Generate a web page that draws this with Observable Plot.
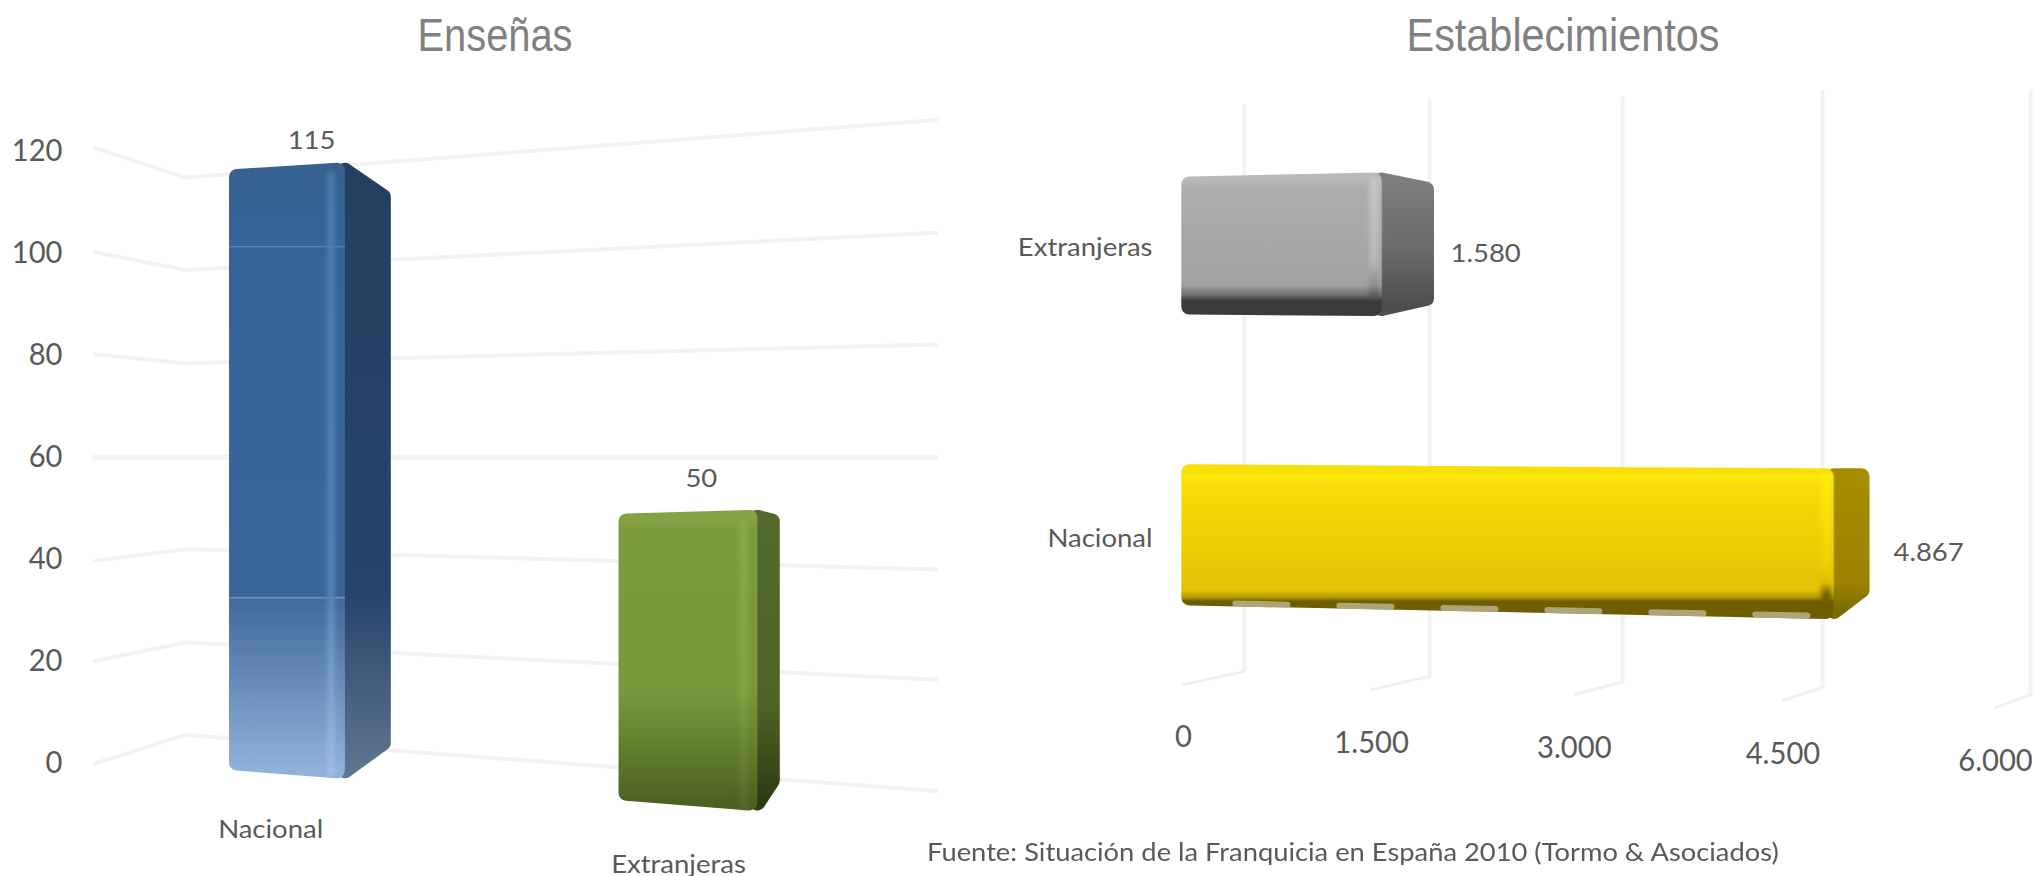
<!DOCTYPE html>
<html lang="es">
<head>
<meta charset="utf-8">
<script src="https://cdn.jsdelivr.net/npm/d3@7"></script>
<script src="https://cdn.jsdelivr.net/npm/@observablehq/plot@0.6"></script>
<style>
html,body{margin:0;padding:0;background:#fff;width:2035px;height:876px;overflow:hidden}
#page{position:relative;width:2035px;height:876px;font-family:Lato,sans-serif}
#left,#right{position:absolute;top:0}
#left{left:0}#right{left:950px}
.t{position:absolute;white-space:nowrap;color:#808080;font-family:"Liberation Sans",sans-serif;font-size:46px;line-height:1}
#source{position:absolute;left:927px;top:836px;white-space:nowrap;color:#595959;font-size:25px;line-height:1.2;transform-origin:0 50%;transform:scaleX(1.093)}
svg{overflow:visible;display:block}
g[fill*="Edge"]{filter:blur(2.5px)}
</style>
</head>
<body>
<div id="page">
<div id="left"></div><div id="right"></div>
<div class="t" style="left:495px;top:12px;transform:translateX(-50%) scaleX(.865)">Enseñas</div>
<div class="t" style="left:1563px;top:12px;transform:translateX(-50%) scaleX(.90)">Establecimientos</div>
<div id="source">Fuente: Situación de la Franquicia en España 2010 (Tormo &amp; Asociados)</div>
</div>
<script>
const FONT='Lato,sans-serif';
const INK="#595959";
const GRID="#f2f2f2";

// ---------- Enseñas ----------
const ensenasCategories=["Nacional","Extranjeras"];
const ensenasValues=[115,50];
const ensenasTicks=[0,20,40,60,80,100,120];
const gridFarLeft=[0,20.1,39.7,60,80.2,100.2,120.6];
const gridCorner=[5.6,23.7,42,60,78.4,96.7,114.8];
const gridFarRight=[-5.4,16.4,38,60,82.1,104,126.1];
const ensenasGridX=[-0.481,-0.254,1.618];
const ensenasFloor=[-1.5,-7.4];
const ensenasFloorRight=[-3,-9.3];
const ensenasFloorBack=[2.4,-5];
const ensenasTopLeft=[1.4,-1.1];
const ensenasTopRight=[2.6,-0.4];
const ensenasTopBack=[-2.5,-1.1];
const ensenasHalf=[0.1446,0.1733];
const ensenasBack=[0.259,0.229];
const ensenasValueLabelX=[0.06,1.032];
const ensenasValueLabelY=[122,55.7];
const ensenasCatLabelY=[-13,-19.8];
const ensenasCatLabelX=[-0.042,0.975];

// ---------- Establecimientos ----------
const estabCategories=["Extranjeras","Nacional"];
const estabValues=[1580,4867];
const estabBackDepth=[392,254];
const estabValueLabelX=[2091,5283];
const estabTicks=[0,1500,3000,4500,6000];
const estabTickLabels=["0","1.500","3.000","4.500","6.000"];
const estabTickRow=[1.699,1.72,1.737,1.761,1.782];
const estabGridBack=[515,1935,3350,4781,6245];
const estabGridTop=[-0.484,-0.502,-0.509,-0.533,-0.536];
const estabGridBend=[1.474,1.491,1.509,1.529,1.554];
const estabGridEnd=[1.519,1.536,1.554,1.574,1.599];
const estabTop=[-0.2374,-0.242];
const estabTopRight=[-0.2512,-0.228];
const estabBackTop=[-0.2197,-0.228];
const estabBottom=[0.2405,0.247];
const estabBottomRight=[0.2457,0.294];
const estabBackBottom=[0.211,0.221];
const estabCatLabelRow=[0.009,1.016];
const estabValueRow=[0.03,1.062];

function gradient(id,stops,horizontal){
  const g=d3.create("svg:linearGradient").attr("id",id).attr("x1",0).attr("y1",0)
    .attr("x2",horizontal?1:0).attr("y2",horizontal?0:1);
  for(const [o,c] of stops) g.append("stop").attr("offset",o).attr("stop-color",c);
  return g.node();
}
function defs(list){
  return ()=>{const d=d3.create("svg:defs");list.forEach(([id,s,h])=>d.node().appendChild(gradient(id,s,h)));return d.node();};
}
function face(a,b,fillId,sw=16){
  return Plot.areaY([a,b],{x:"x",y1:"y1",y2:"y2",fill:`url(#${fillId})`,stroke:sw?`url(#${fillId})`:"none",strokeWidth:sw,strokeLinejoin:"round"});
}
function squeeze(svg,sizes){
  svg.querySelectorAll("text").forEach(t=>{
    const fs=parseFloat(t.getAttribute("font-size")||(t.parentNode.getAttribute&&t.parentNode.getAttribute("font-size"))||0);
    const sx=sizes[fs]||1;
    t.setAttribute("transform",(t.getAttribute("transform")||"")+` scale(${sx},1)`);
  });
  return svg;
}

// --- left chart ---
const ux=0.02, uy=1.57; // half the stroke, so that the rounded outline lands on the read edge
const leftFaces=[];
ensenasCategories.forEach((c,i)=>{
  const v=ensenasValues[i],h=ensenasHalf[i],bk=ensenasBack[i],f=i?"g":"b";
  leftFaces.push(face({x:i+h,y1:ensenasFloorRight[i]+uy,y2:v+ensenasTopRight[i]-uy},{x:i+bk-ux,y1:ensenasFloorBack[i]+uy,y2:v+ensenasTopBack[i]-uy},f+"Side"));
  leftFaces.push(face({x:i-h+ux,y1:ensenasFloor[i]+uy,y2:v+ensenasTopLeft[i]-uy},{x:i+h-ux,y1:ensenasFloorRight[i]+uy,y2:v+ensenasTopRight[i]-uy},f+"Front"));
  leftFaces.push(face({x:i+h-0.044,y1:ensenasFloorRight[i]+0.5,y2:v+ensenasTopRight[i]-1.8},{x:i+h-0.026,y1:ensenasFloorRight[i]+0.5,y2:v+ensenasTopRight[i]-1.8},f+"Edge",0));
});

document.getElementById("left").append(squeeze(Plot.plot({
  width:950,height:876,margin:0,
  style:{fontFamily:FONT,background:"transparent"},
  x:{domain:[-0.7157,1.6534],range:[0,950],axis:null},
  y:{domain:[-22.14,149.5],range:[876,0],axis:null},
  marks:[
    defs([
      ["bFront",[[0,"#35628f"],[0.125,"#36649a"],[0.126,"#5f80a8"],[0.129,"#36649a"],[0.71,"#3a6599"],[0.711,"#7d98ba"],[0.715,"#42699b"],[1,"#90b1da"]]],
      ["bSide",[[0,"#233f60"],[0.7,"#26436a"],[1,"#5f7590"]]],
      ["bEdge",[[0,"#4d7bb0"],[0.7,"#5b86b8"],[1,"#a2c0e6"]]],
      ["gFront",[[0,"#85a244"],[0.05,"#7c9a3e"],[0.6,"#7a983b"],[0.78,"#66822f"],[1,"#4c6121"]]],
      ["gSide",[[0,"#536a2a"],[0.65,"#4e6425"],[1,"#2d3a12"]]],
      ["gEdge",[[0,"#8bab48"],[0.6,"#85a541"],[1,"#54692a"]]]
    ]),
    ...ensenasTicks.map((t,i)=>Plot.line(
      [[ensenasGridX[0],gridFarLeft[i]],[ensenasGridX[1],gridCorner[i]],[ensenasGridX[2],gridFarRight[i]]],
      {x:"0",y:"1",stroke:GRID,strokeWidth:t===60?5:4})),
    Plot.axisY(ensenasTicks,{anchor:"left",tickSize:0,tickPadding:0,dx:62,fontSize:31,fill:INK,tickFormat:d=>String(d)}),
    ...leftFaces,
    Plot.text(ensenasValues,{x:(d,i)=>ensenasValueLabelX[i],y:(d,i)=>ensenasValueLabelY[i],text:d=>String(d),fontSize:25,fill:INK}),
    Plot.text(ensenasCategories,{x:(d,i)=>ensenasCatLabelX[i],y:(d,i)=>ensenasCatLabelY[i],text:d=>d,fontSize:25,fill:INK})
  ]
}),{31:0.94,25:1.1}));

// --- right chart ---
const rx=60, ry=0.028;
const rightFaces=[];
estabCategories.forEach((c,i)=>{
  const v=estabValues[i],f=i?"y":"s",bk=v+estabBackDepth[i];
  rightFaces.push(face({x:v,y1:i+estabBottomRight[i]-ry,y2:i+estabTopRight[i]+ry},{x:bk-rx,y1:i+estabBackBottom[i]-ry,y2:i+estabBackTop[i]+ry},f+"Side"));
  rightFaces.push(face({x:rx,y1:i+estabBottom[i]-ry,y2:i+estabTop[i]+ry},{x:v-rx,y1:i+estabBottomRight[i]-ry,y2:i+estabTopRight[i]+ry},f+"Front"));
  rightFaces.push(face({x:v-90,y1:i+estabBottomRight[i]-0.06,y2:i+estabTopRight[i]+0.02},{x:v-20,y1:i+estabBottomRight[i]-0.06,y2:i+estabTopRight[i]+0.02},f+"Edge",0));
});
const yellowBottomEdge=[[0,estabBottom[1]+1-0.012],[estabValues[1],estabBottomRight[1]+1-0.012]];

document.getElementById("right").append(squeeze(Plot.plot({
  width:1085,height:876,margin:0,
  style:{fontFamily:FONT,background:"transparent"},
  x:{type:"pow",exponent:1.055,domain:[0,6000],range:[233,1045],axis:null},
  y:{domain:[-0.848,2.183],range:[0,876],axis:null},
  marks:[
    defs([
      ["sFront",[[0,"#b8b8b8"],[0.06,"#aeaeae"],[0.82,"#a2a2a2"],[0.9,"#6d6d6d"],[0.94,"#3c3c3c"],[1,"#3a3a3a"]]],
      ["sSide",[[0,"#7d7d7d"],[0.5,"#6c6c6c"],[1,"#4d4d4d"]]],
      ["sEdge",[[0,"#c8c8c8"],[0.7,"#b8b8b8"],[0.88,"#8e8e8e"],[1,"#4a4a4a"]]],
      ["yFront",[[0,"#f7e008"],[0.03,"#fce80a"],[0.1,"#f9dc08"],[0.85,"#e3c204"],[0.9,"#b39a03"],[0.93,"#6e5e00"],[1,"#6e5e00"]]],
      ["ySide",[[0,"#a68d00"],[0.8,"#9b8200"],[1,"#7c6a00"]]],
      ["yEdge",[[0,"#ffec10"],[0.7,"#eed206"],[0.86,"#d8b904"],[0.93,"#6e5e00"],[1,"#6e5e00"]]]
    ]),
    ...estabTicks.map((t,i)=>Plot.line(
      [[estabGridBack[i],estabGridBend[i]],[estabGridBack[i],estabGridTop[i]]],
      {x:"0",y:"1",stroke:GRID,strokeWidth:4})),
    ...estabTicks.map((t,i)=>Plot.line(
      [[t,estabGridEnd[i]],[estabGridBack[i],estabGridBend[i]]],
      {x:"0",y:"1",stroke:"#f0f0f0",strokeWidth:3})),
    ...rightFaces,
    Plot.line(yellowBottomEdge,{x:"0",y:"1",stroke:"#b8b28c",strokeOpacity:0.85,strokeWidth:6,strokeDasharray:"52 52",strokeDashoffset:52}),
    Plot.text(estabTicks,{x:d=>d,y:(d,i)=>estabTickRow[i],text:(d,i)=>estabTickLabels[i],fontSize:31,fill:INK}),
    Plot.text(estabCategories,{x:0,y:(d,i)=>estabCatLabelRow[i],text:d=>d,dx:-31,textAnchor:"end",fontSize:25,fill:INK}),
    Plot.text(estabValues,{x:(d,i)=>estabValueLabelX[i],y:(d,i)=>estabValueRow[i],text:d=>d3.formatLocale({decimal:",",thousands:".",grouping:[3],currency:["",""]}).format(",")(d),textAnchor:"start",fontSize:25,fill:INK})
  ]
}),{31:0.94,25:1.1}));
</script>
</body>
</html>
